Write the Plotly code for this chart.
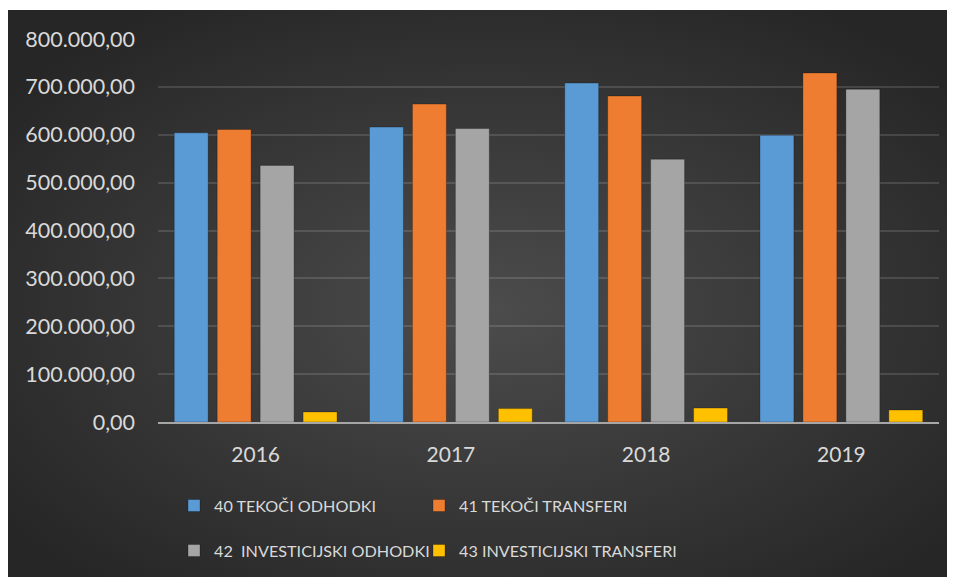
import base64
import plotly.graph_objects as go

years = ["2016", "2017", "2018", "2019"]
series_names = ["40 TEKOČI ODHODKI", "41 TEKOČI TRANSFERI",
                "42  INVESTICIJSKI ODHODKI", "43 INVESTICIJSKI TRANSFERI"]
tekoci_odhodki = [604000, 616000, 708000, 599000]
tekoci_transferi = [611000, 664000, 681000, 729000]
investicijski_odhodki = [536000, 613000, 549000, 695000]
investicijski_transferi = [21000, 28000, 29000, 25000]
y_ticks = [0, 100000, 200000, 300000, 400000, 500000, 600000, 700000, 800000]

colors = ["#5b9bd5", "#ef7d31", "#a5a5a5", "#ffc000"]
values = [tekoci_odhodki, tekoci_transferi, investicijski_odhodki, investicijski_transferi]
legend_ids = ["legend", "legend2", "legend3", "legend4"]

FONT = "Lato, Calibri, Carlito, sans-serif"
TXT = "#d9d9d9"

fig = go.Figure()
for name, vals, col, lg in zip(series_names, values, colors, legend_ids):
    fig.add_trace(go.Bar(
        x=years, y=vals, name=name, legend=lg,
        marker=dict(color=col, line=dict(width=1, color="rgba(0,0,0,0.25)")),
    ))

# page body has an 8px margin, so figure coordinates = screen - 8
FW, FH = 955, 577
L, T, R, B = 150, 31, 24, 163
W, H = FW - L - R, FH - T - B

svg = ('<svg xmlns="http://www.w3.org/2000/svg" viewBox="0 0 1000 600" '
       'preserveAspectRatio="none" width="1000" height="600">'
       '<defs><radialGradient id="g" cx="48%" cy="50%" r="60%">'
       '<stop offset="0" stop-color="#4c4c4c"/><stop offset="1" stop-color="#262626"/>'
       '</radialGradient></defs><rect width="1000" height="600" fill="url(#g)"/></svg>')
src = "data:image/svg+xml;base64," + base64.b64encode(svg.encode()).decode()

fig.add_layout_image(dict(
    source=src, xref="paper", yref="paper",
    x=(0 - L) / W, y=(T + H - 2) / H, sizex=1000 / W, sizey=600 / H,
    xanchor="left", yanchor="top", sizing="stretch", layer="below",
))

def leg(xpx, ypx):
    return dict(orientation="h", x=(xpx - L) / W, y=(T + H - ypx) / H,
                xanchor="left", yanchor="middle", bgcolor="rgba(0,0,0,0)",
                font=dict(family=FONT, size=16.2, color=TXT))

COL1, COL2 = 166, 411
ROW1, ROW2 = 498, 543

fig.update_layout(
    width=FW, height=FH,
    margin=dict(l=L, r=R, t=T, b=B),
    paper_bgcolor="white", plot_bgcolor="rgba(0,0,0,0)",
    separators=",.",
    barmode="group", bargap=0.12, bargroupgap=0.21,
    font=dict(family=FONT, color=TXT, size=21),
    xaxis=dict(showgrid=False, ticks="", ticklabelstandoff=13,
               showline=True, linecolor="#a6a6a6", linewidth=2,
               tickfont=dict(size=21, color=TXT)),
    yaxis=dict(range=[0, 800000], tickvals=y_ticks, tickformat=",.2f",
               showgrid=True, gridcolor="rgba(255,255,255,0.13)", gridwidth=1.5,
               zeroline=False, ticks="", ticklabelstandoff=22,
               tickfont=dict(size=21.5, color=TXT)),
    legend=leg(COL1, ROW1),
    legend2=leg(COL2, ROW1),
    legend3=leg(COL1, ROW2),
    legend4=leg(COL2, ROW2),
    showlegend=True,
)

fig.write_html("out.html", config={"displayModeBar": False})
